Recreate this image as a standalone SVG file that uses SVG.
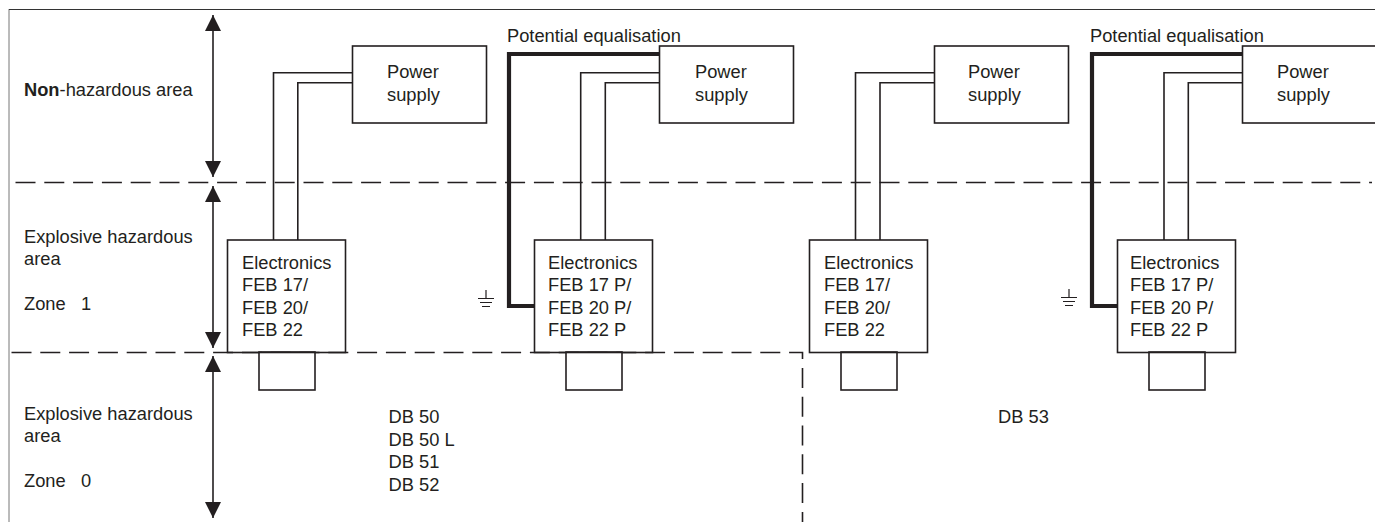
<svg xmlns="http://www.w3.org/2000/svg" width="1375" height="522" viewBox="0 0 1375 522">
<style>
text{font-family:"Liberation Sans",Arial,sans-serif;font-size:18.300px;fill:#231f20}
.b{fill:#fff;stroke:#231f20;stroke-width:1.600}
.n{fill:none;stroke:#231f20;stroke-width:1.600}
.w{fill:none;stroke:#231f20;stroke-width:1.600}
.t{fill:none;stroke:#231f20;stroke-width:4.200}
.d{fill:none;stroke:#231f20;stroke-width:1.600;stroke-dasharray:20 8.800}
.a{fill:none;stroke:#231f20;stroke-width:1.600;marker-start:url(#h);marker-end:url(#h)}
.g{fill:none;stroke:#231f20;stroke-width:1.200}
</style>
<defs><marker id="h" markerUnits="userSpaceOnUse" markerWidth="16" markerHeight="16" refX="16" refY="8" orient="auto-start-reverse"><path d="M0 0L16 8L0 16Z" fill="#231f20"/></marker></defs>
<rect width="1375" height="522" fill="#fff"/>
<path d="M9 522V9" fill="none" stroke="#777" stroke-width="1"/>
<path d="M9 9.500H1375" fill="none" stroke="#333" stroke-width="1"/>
<g id="connectors">
<path class="d" d="M15.500 182.500H1372"/>
<path class="d" d="M11.500 352.500H802.500V522"/>
<path class="a" d="M213 15V177"/>
<path class="a" d="M213 186V348"/>
<path class="a" d="M213 356V518"/>
<path class="w" d="M273.500 240V72.800H352M297.800 240V82.800H352"/>
<path class="w" d="M580.700 240V72.800H659M605.300 240V82.800H659"/>
<path class="w" d="M855.500 240V72.800H934M880 240V82.800H934"/>
<path class="w" d="M1164 240V72.800H1242M1188.300 240V82.800H1242"/>
<path class="t" d="M659 54H509V306H534"/>
<path class="t" d="M1242 54H1092V306H1117"/>
</g>
<g id="power1"><rect class="b" x="352.500" y="46" width="134" height="77"/><text x="387" y="78">Power</text><text x="387" y="101">supply</text></g>
<g id="power2"><rect class="b" x="659.500" y="46" width="134" height="77"/><text x="695" y="78">Power</text><text x="695" y="101">supply</text></g>
<g id="power3"><rect class="b" x="934.500" y="46" width="134" height="77"/><text x="968" y="78">Power</text><text x="968" y="101">supply</text></g>
<g id="power4"><rect class="b" x="1242.500" y="46" width="134" height="77"/><text x="1277" y="78">Power</text><text x="1277" y="101">supply</text></g>
<g id="sensor1"><rect class="b" x="259" y="352" width="56" height="38"/></g>
<g id="sensor2"><rect class="b" x="566" y="352" width="56" height="38"/></g>
<g id="sensor3"><rect class="b" x="841" y="352" width="56" height="38"/></g>
<g id="sensor4"><rect class="b" x="1149" y="352" width="56" height="38"/></g>
<g id="electronics1"><rect class="n" x="227.500" y="240" width="118" height="112.500"/><text x="242" y="269">Electronics</text><text x="242" y="291">FEB 17/</text><text x="242" y="314">FEB 20/</text><text x="242" y="336">FEB 22</text></g>
<g id="electronics2"><rect class="n" x="534.500" y="240" width="118" height="112.500"/><text x="548" y="269">Electronics</text><text x="548" y="291">FEB 17 P/</text><text x="548" y="314">FEB 20 P/</text><text x="548" y="336">FEB 22 P</text></g>
<g id="electronics3"><rect class="n" x="809.500" y="240" width="118" height="112.500"/><text x="824" y="269">Electronics</text><text x="824" y="291">FEB 17/</text><text x="824" y="314">FEB 20/</text><text x="824" y="336">FEB 22</text></g>
<g id="electronics4"><rect class="n" x="1117.500" y="240" width="118" height="112.500"/><text x="1130" y="269">Electronics</text><text x="1130" y="291">FEB 17 P/</text><text x="1130" y="314">FEB 20 P/</text><text x="1130" y="336">FEB 22 P</text></g>
<g id="ground1"><path class="g" d="M486 290V298M478 298.500H494M480 302.500H492M482 306.500H490"/></g>
<g id="ground2"><path class="g" d="M1069 289V297M1061 297.500H1077M1063 301.500H1075M1065 305.500H1073"/></g>
<g id="labels">
<text x="24" y="96"><tspan font-weight="bold">Non</tspan>-hazardous area</text>
<text x="24" y="243">Explosive hazardous</text><text x="24" y="265">area</text><text x="24" y="310" xml:space="preserve">Zone   1</text>
<text x="24" y="420">Explosive hazardous</text><text x="24" y="442">area</text><text x="24" y="487" xml:space="preserve">Zone   0</text>
<text x="507" y="42">Potential equalisation</text>
<text x="1090" y="42">Potential equalisation</text>
<text x="388.500" y="423">DB 50</text><text x="388.500" y="446">DB 50 L</text><text x="388.500" y="468">DB 51</text><text x="388.500" y="491">DB 52</text>
<text x="998" y="423">DB 53</text>
</g>
</svg>
